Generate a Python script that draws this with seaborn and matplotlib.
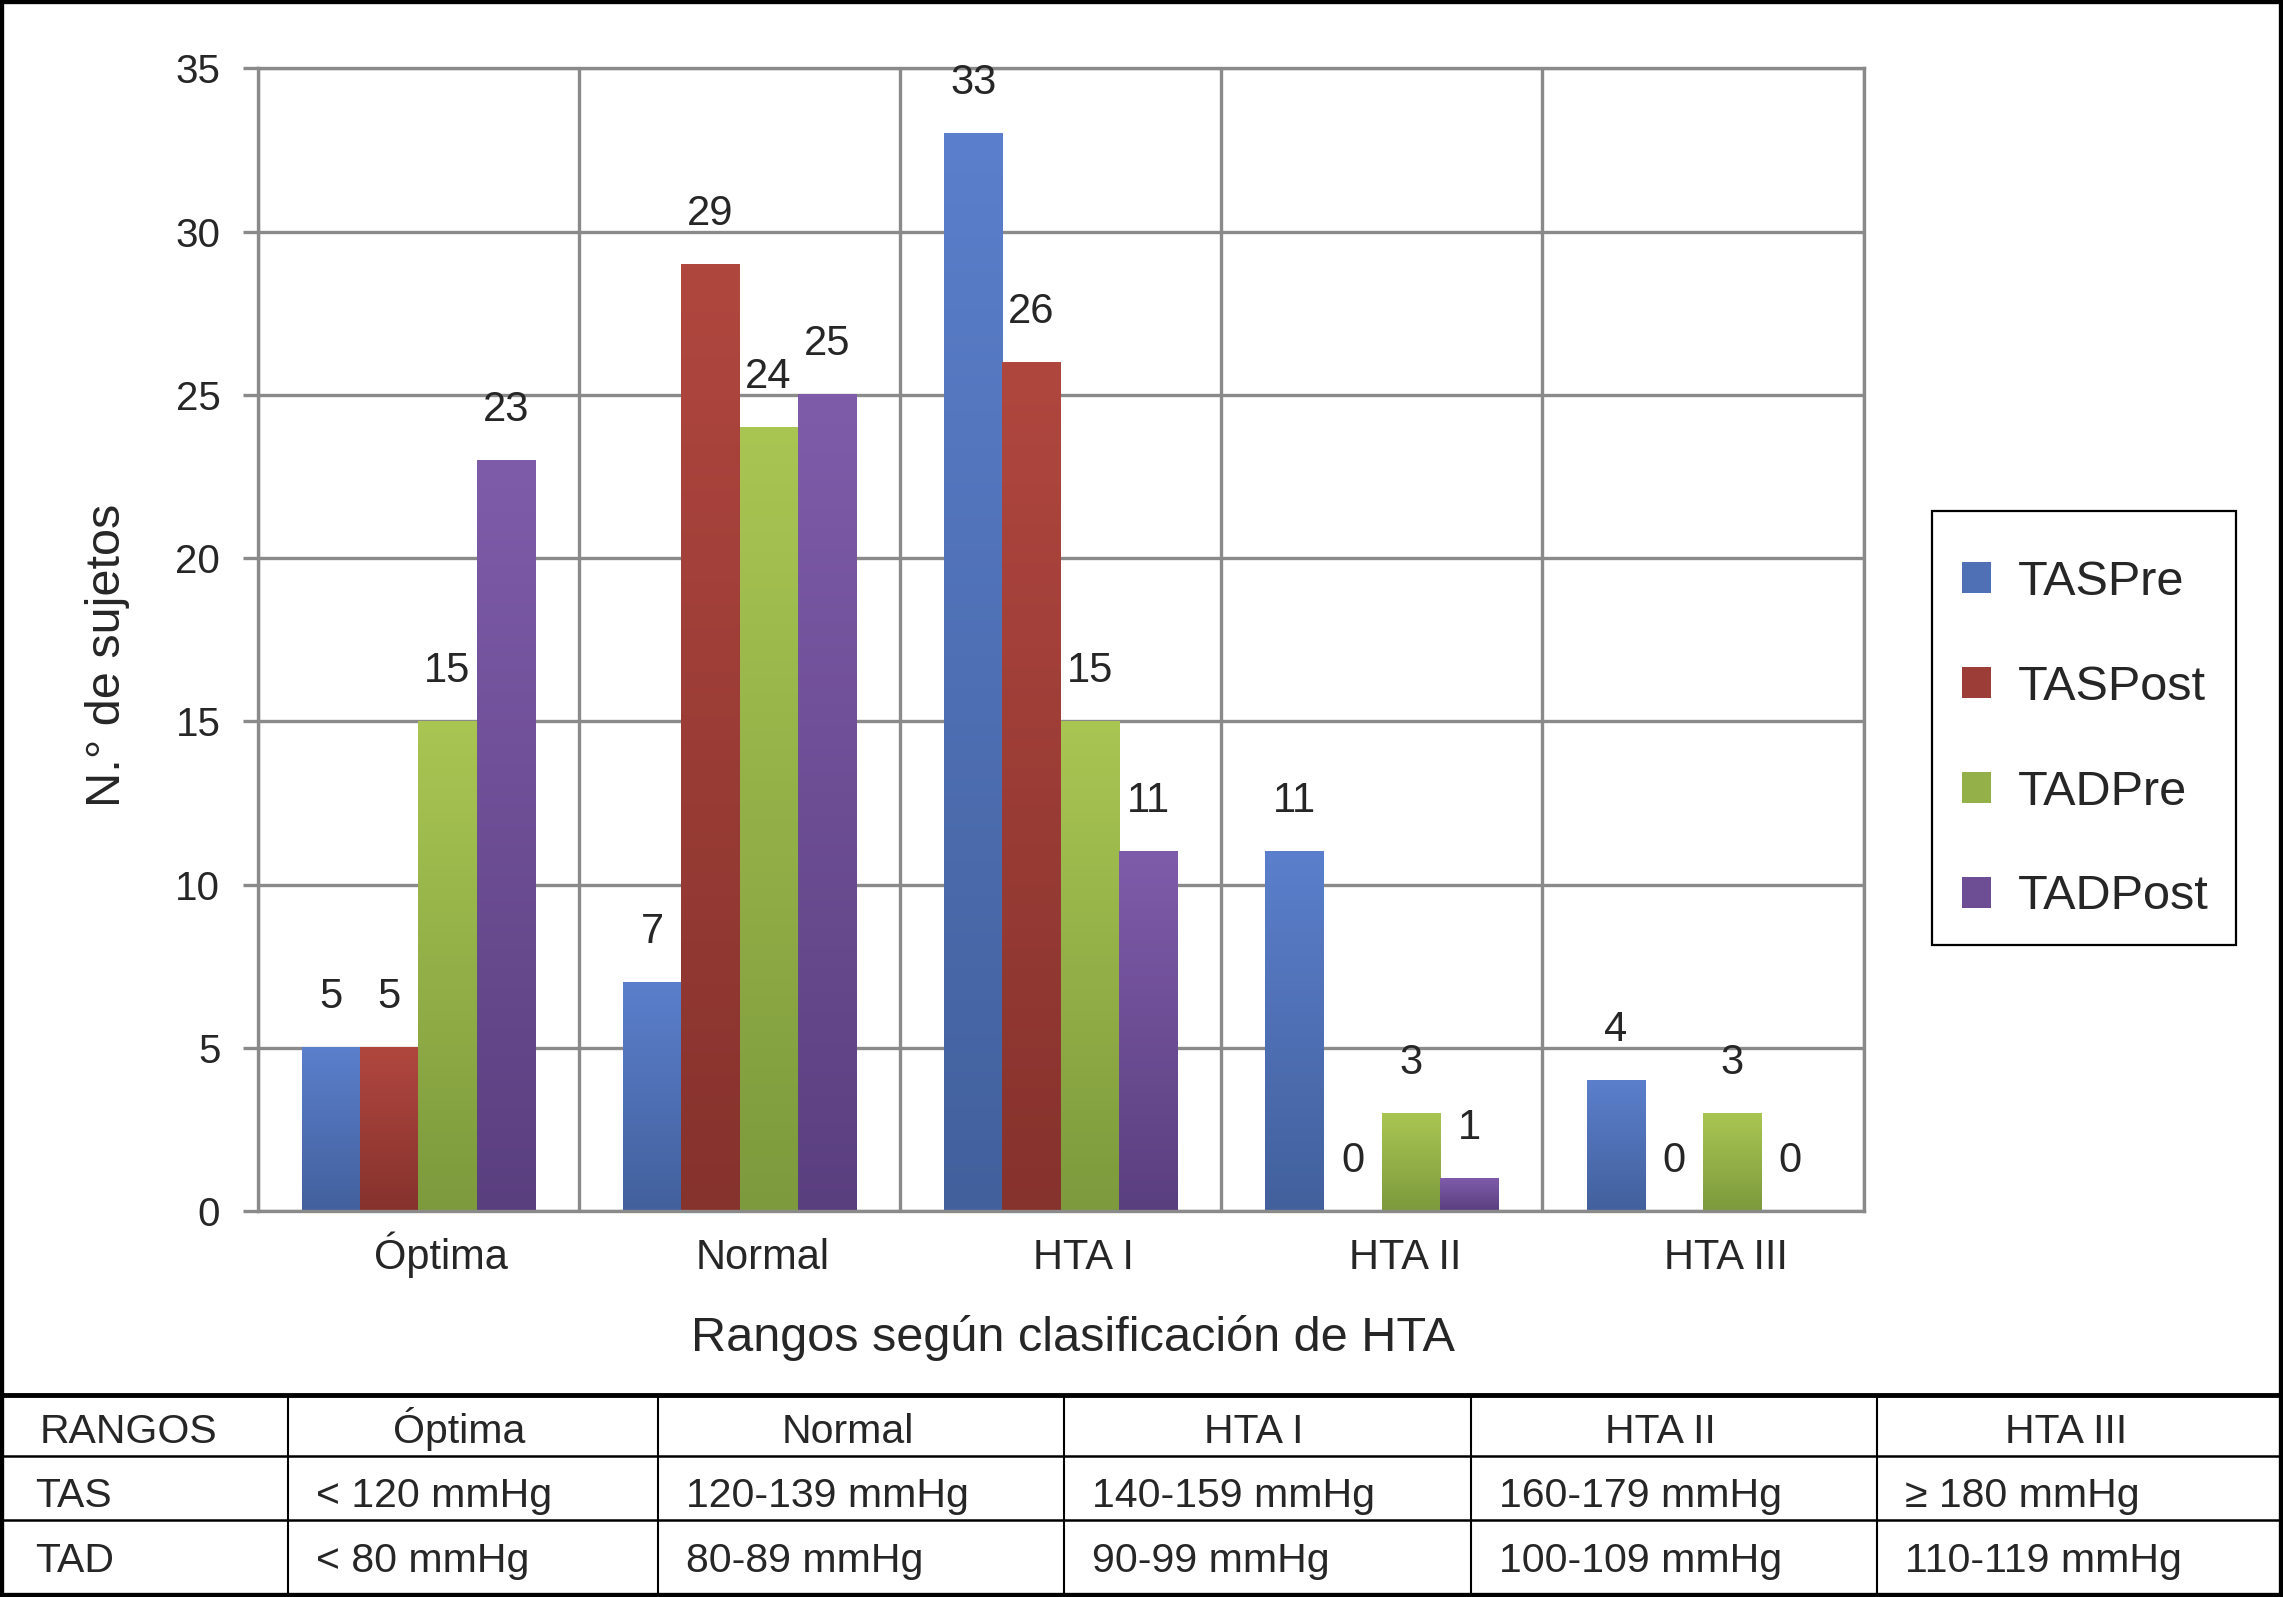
import numpy as np
import pandas as pd
import matplotlib
matplotlib.use('Agg')
import matplotlib.pyplot as plt
import seaborn as sns
from matplotlib.colors import LinearSegmentedColormap
from matplotlib.lines import Line2D
from matplotlib.patches import Rectangle, Patch
from matplotlib.transforms import ScaledTranslation

# datos
categorias = ["Óptima", "Normal", "HTA I", "HTA II", "HTA III"]
series = ["TASPre", "TASPost", "TADPre", "TADPost"]
tas_pre = [5, 7, 33, 11, 4]
tas_post = [5, 29, 26, 0, 0]
tad_pre = [15, 24, 15, 3, 3]
tad_post = [23, 25, 11, 1, 0]

tabla_cab = ["RANGOS", "Óptima", "Normal", "HTA I", "HTA II", "HTA III"]
tabla_tas = ["TAS", "< 120 mmHg", "120-139 mmHg", "140-159 mmHg", "160-179 mmHg", "≥ 180 mmHg"]
tabla_tad = ["TAD", "< 80 mmHg", "80-89 mmHg", "90-99 mmHg", "100-109 mmHg", "110-119 mmHg"]

col_top = ['#5B7FCC', '#B0473F', '#A9C653', '#7F5CAA']
col_bot = ['#42609C', '#86322D', '#7D9A3D', '#5A3F7F']
col_mid = ['#4F70B5', '#9C3D37', '#94B048', '#6D4E95']
gris = '#8a8a8a'

df = pd.DataFrame({
    'categoria': categorias * 4,
    'serie': np.repeat(series, len(categorias)),
    'n': tas_pre + tas_post + tad_pre + tad_post,
})

sns.set_style('white')
plt.rcParams['font.family'] = ['Liberation Sans', 'DejaVu Sans']

fig = plt.figure(figsize=(22.83, 15.97), dpi=100)
ax = fig.add_axes([0.1129, 0.2416, 0.7034, 0.7156])

sns.barplot(data=df, x='categoria', y='n', hue='serie', order=categorias,
            hue_order=series, palette=col_mid, saturation=1, width=0.725,
            errorbar=None, legend=False, ax=ax)

# degradado vertical en cada barra
grad = np.linspace(0, 1, 256).reshape(-1, 1)
for cont, ct, cb in zip(ax.containers, col_top, col_bot):
    cmap = LinearSegmentedColormap.from_list('g', [cb, ct])
    for bar in cont:
        h = bar.get_height()
        if h > 0:
            x0 = bar.get_x()
            ax.imshow(grad, cmap=cmap, origin='lower', aspect='auto',
                      extent=(x0, x0 + bar.get_width(), 0, h), zorder=2)
        bar.set_facecolor('none')
        bar.set_edgecolor('none')
    ax.bar_label(cont, padding=22, fontsize=30)

ax.set_xlim(-0.5, 4.5)
ax.set_ylim(0, 35)
ax.set_yticks(range(0, 36, 5))
ax.set_xticks(np.arange(-0.5, 5, 1), minor=True)
ax.grid(axis='y', color=gris, lw=2.4)
ax.grid(axis='x', which='minor', color=gris, lw=2.4)
ax.grid(axis='x', which='major', visible=False)
ax.set_axisbelow(True)
for s in ax.spines.values():
    s.set_visible(True)
    s.set_color(gris)
    s.set_linewidth(2.4)

ax.tick_params(axis='y', left=True, length=11, width=2.4, color=gris, pad=16, labelsize=29)
ax.tick_params(axis='x', which='both', bottom=False, length=0, pad=42, labelsize=30)
desplaza = ScaledTranslation(0.23, 0, fig.dpi_scale_trans)
for t in ax.get_xticklabels():
    t.set_va('baseline')
    t.set_transform(t.get_transform() + desplaza)

ax.set_xlabel('Rangos según clasificación de HTA', fontsize=35, va='baseline')
ax.xaxis.set_label_coords(0.5077, -0.1225)
ax.set_ylabel('N.° de sujetos', fontsize=35, va='baseline')
ax.yaxis.set_label_coords(-0.0857, 0.4864)

# leyenda
handles = [Patch(facecolor=c, edgecolor='none', label=s) for c, s in zip(col_mid, series)]
fig.legend(handles=handles, loc='center left', bbox_to_anchor=(0.8594, 0.5368),
           frameon=False, fontsize=35, handlelength=0.6, handleheight=0.6,
           handletextpad=0.54, labelspacing=1.23, borderpad=0, borderaxespad=0)
fig.add_artist(Rectangle((0.8463, 0.408), 0.9796 - 0.8463, 0.680 - 0.408,
                         transform=fig.transFigure, fill=False, edgecolor='black', lw=1.6))

# tabla de rangos
bordes = [0, 0.1261, 0.2883, 0.4662, 0.6442, 0.8221, 1.0]
y_sep = 0.1265
fig.add_artist(Line2D([0, 1], [y_sep, y_sep], transform=fig.transFigure, color='black', lw=3.5))
for y in [0.0883, 0.0482]:
    fig.add_artist(Line2D([0, 1], [y, y], transform=fig.transFigure, color='black', lw=1.8))
for x in bordes[1:-1]:
    fig.add_artist(Line2D([x, x], [0.002, y_sep], transform=fig.transFigure, color='black', lw=1.5))

fs_tabla = 29.5
fig.text(0.0175, 0.0964, tabla_cab[0], fontsize=fs_tabla, va='baseline', ha='left')
for i in range(1, 6):
    xc = (bordes[i] + bordes[i + 1]) / 2 - 0.006
    fig.text(xc, 0.0964, tabla_cab[i], fontsize=fs_tabla, va='baseline', ha='center')
for fila, yb in [(tabla_tas, 0.0564), (tabla_tad, 0.0157)]:
    fig.text(0.0153, yb, fila[0], fontsize=fs_tabla, va='baseline', ha='left')
    for i in range(1, 6):
        fig.text(bordes[i] + 0.0123, yb, fila[i], fontsize=fs_tabla, va='baseline', ha='left')

fig.add_artist(Rectangle((0, 0), 1, 1, transform=fig.transFigure, fill=False,
                         edgecolor='black', lw=6))

fig.savefig('out.png', dpi=100)
